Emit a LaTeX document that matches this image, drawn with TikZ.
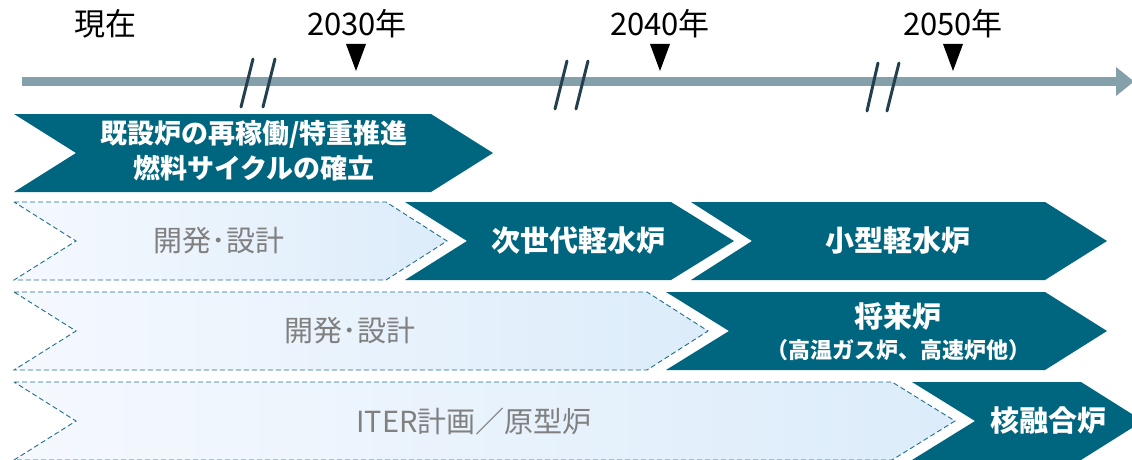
\documentclass[tikz,border=0pt]{standalone}
\usepackage{fontspec}
\setmainfont{Noto Sans CJK JP}
\definecolor{teal}{HTML}{00657F}
\definecolor{barc}{HTML}{84A0AA}
\definecolor{slashc}{HTML}{24404F}
\definecolor{dashc}{HTML}{1F6E8C}
\definecolor{gl}{HTML}{F5F9FE}
\definecolor{gr}{HTML}{DCECFA}
\definecolor{graytxt}{HTML}{808080}
\tikzset{
  darkchev/.style={fill=teal, draw=none},
  lightchev/.style={left color=gl, right color=gr, draw=dashc, line width=0.9pt, dash pattern=on 5pt off 3pt},
  slash/.style={draw=slashc, line width=3pt, line cap=round},
  yeartxt/.style={font=\fontsize{31}{34}\selectfont, text=black, inner sep=0pt},
  whitetxt/.style={font=\bfseries\fontsize{29}{35}\selectfont, text=white, align=center, inner sep=0pt},
  graylbl/.style={font=\fontsize{29}{32}\selectfont, text=graytxt, inner sep=0pt},
  marker/.style={fill=black, draw=none}
}
\begin{document}
\begin{tikzpicture}[x=1pt,y=-1pt]
\useasboundingbox (0,0) rectangle (1132,460);
% timeline
\coordinate (tl0) at (22,81.5);
\coordinate (tl1) at (1117,81.5);
\draw[barc, line width=9pt] (tl0) -- (tl1);
\fill[barc] (1116,67) -- (1134,81.5) -- (1116,96) -- cycle;
% breaks
\draw[slash] (253,59) -- (241,107);
\draw[slash] (275,59) -- (263,107);
\draw[slash] (567,61) -- (555,109);
\draw[slash] (588,61) -- (576,109);
\draw[slash] (878,63) -- (867,111);
\draw[slash] (899,63) -- (887,111);
% markers
\fill[marker] (346,44) -- (366,44) -- (356,71) -- cycle;
\fill[marker] (650,44) -- (670,44) -- (660,71) -- cycle;
\fill[marker] (943,44) -- (963,44) -- (953,71) -- cycle;
% labels
\node[yeartxt] (now) at (105,24) {現在};
\node[yeartxt] (y2030) at (357,24) {2030年};
\node[yeartxt] (y2040) at (660,24) {2040年};
\node[yeartxt] (y2050) at (953,24) {2050年};
% row 1
\fill[darkchev] (14,114) -- (431,114) -- (493,153) -- (431,192) -- (14,192) -- (76,153) -- cycle;
\node[whitetxt, font=\bfseries\fontsize{27}{35}\selectfont] (r1) at (254,151) {既設炉の再稼働/特重推進\\燃料サイクルの確立};
% row 2
\path[lightchev] (14,202) -- (386,202) -- (447,241) -- (386,280) -- (14,280) -- (76,241) -- cycle;
\node[graylbl] (d2) at (219,241) {開発･設計};
\fill[darkchev] (405,202) -- (671,202) -- (734,241) -- (671,280) -- (405,280) -- (467,241) -- cycle;
\node[whitetxt] (nextgen) at (578,241) {次世代軽水炉};
\fill[darkchev] (691,202) -- (1045,202) -- (1107,241) -- (1045,280) -- (691,280) -- (752,241) -- cycle;
\node[whitetxt] (small) at (898,241) {小型軽水炉};
% row 3
\path[lightchev] (14,292) -- (647,292) -- (708,331) -- (647,370) -- (14,370) -- (76,331) -- cycle;
\node[graylbl] (d3) at (350,331) {開発･設計};
\fill[darkchev] (666,292) -- (1045,292) -- (1107,331) -- (1045,370) -- (666,370) -- (729,331) -- cycle;
\node[whitetxt] (future) at (898,317) {将来炉};
\node[whitetxt, font=\bfseries\fontsize{22}{24}\selectfont] (futsub) at (898,350) {（高温ガス炉、高速炉他）};
% row 4
\path[lightchev] (14,382) -- (892,382) -- (955,421) -- (892,460) -- (14,460) -- (76,421) -- cycle;
\node[graylbl] (d4) at (474,421) {ITER計画／原型炉};
\fill[darkchev] (912,382) -- (1081,382) -- (1143,421) -- (1081,460) -- (912,460) -- (975,421) -- cycle;
\node[whitetxt] (fusion) at (1048,421) {核融合炉};
\end{tikzpicture}
\end{document}
